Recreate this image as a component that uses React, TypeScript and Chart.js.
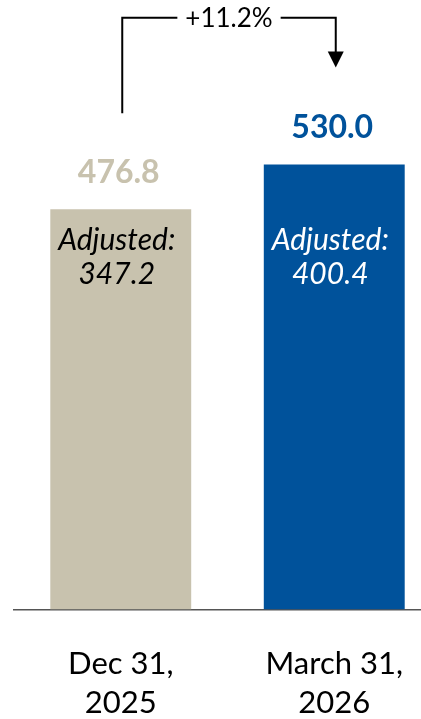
import React, { useEffect, useRef } from "react";
import { Chart, registerables } from "chart.js";

Chart.register(...registerables);

const categories: string[][] = [["Dec 31,", "2025"], ["March 31,", "2026"]];
const totals: number[] = [476.8, 530.0];
const adjusted: number[] = [347.2, 400.4];
const changeLabel = "+11.2%";
const barColors = ["#C8C2AE", "#00529B"];
const adjustedTextColors = ["#000000", "#FFFFFF"];
const FONT = "Lato, 'Open Sans', sans-serif";

const annotationPlugin = {
  id: "annotations",
  afterDatasetsDraw(chart: any) {
    const ctx = chart.ctx;
    const meta = chart.getDatasetMeta(0);
    const yScale = chart.scales.y;
    ctx.save();
    meta.data.forEach((bar: any, i: number) => {
      ctx.font = `bold 32px ${FONT}`;
      ctx.fillStyle = barColors[i];
      ctx.textAlign = "center";
      ctx.textBaseline = "middle";
      ctx.fillText(totals[i].toFixed(1), bar.x - 2, bar.y - 37);
      ctx.font = `italic 30px ${FONT}`;
      ctx.fillStyle = adjustedTextColors[i];
      const yA = yScale.getPixelForValue(440);
      ctx.fillText("Adjusted:", bar.x - 4, yA);
      ctx.fillText(adjusted[i].toFixed(1), bar.x - 4, yA + 34);
    });
    const b0 = meta.data[0];
    const b1 = meta.data[1];
    const x0 = b0.x + 1.5;
    const x1 = b1.x + 1.5;
    const topY = yScale.getPixelForValue(705);
    const leftBottom = b0.y - 96;
    const tipY = b1.y - 97;
    const midX = (x0 + x1) / 2;
    ctx.font = `26px ${FONT}`;
    const tw = ctx.measureText(changeLabel).width;
    ctx.strokeStyle = "#000";
    ctx.lineWidth = 2;
    ctx.beginPath();
    ctx.moveTo(x0, leftBottom);
    ctx.lineTo(x0, topY);
    ctx.lineTo(midX - tw / 2 - 8, topY);
    ctx.moveTo(midX + tw / 2 + 8, topY);
    ctx.lineTo(x1, topY);
    ctx.lineTo(x1, tipY - 15);
    ctx.stroke();
    ctx.fillStyle = "#000";
    ctx.beginPath();
    ctx.moveTo(x1 - 8, tipY - 16);
    ctx.lineTo(x1 + 8, tipY - 16);
    ctx.lineTo(x1, tipY);
    ctx.closePath();
    ctx.fill();
    ctx.textAlign = "center";
    ctx.textBaseline = "middle";
    ctx.fillText(changeLabel, midX, topY + 1);
    ctx.restore();
  },
};

export default function App() {
  const ref = useRef<HTMLCanvasElement | null>(null);
  useEffect(() => {
    if (!ref.current) return;
    const chart = new Chart(ref.current, {
      type: "bar",
      data: {
        labels: categories,
        datasets: [
          {
            data: totals,
            backgroundColor: barColors,
            borderWidth: 0,
            barPercentage: 0.66,
            categoryPercentage: 1,
          },
        ],
      },
      options: {
        responsive: false,
        animation: false,
        layout: { padding: { left: 14, right: 0, top: 0, bottom: 0 } },
        plugins: { legend: { display: false }, tooltip: { enabled: false } },
        scales: {
          x: {
            grid: { display: false, drawTicks: false },
            border: { display: true, color: "#555", width: 1.5 },
            ticks: {
              color: "#000",
              font: { family: FONT, size: 31, lineHeight: 1.25 },
              padding: 35,
              maxRotation: 0,
              autoSkip: false,
            },
          },
          y: { display: false, min: 0, max: 726 },
        },
      },
      plugins: [annotationPlugin],
    });
    return () => chart.destroy();
  }, []);
  return (
    <div style={{ position: "absolute", left: 0, top: 0, width: 421, height: 719, overflow: "hidden", background: "#fff" }}>
      <canvas ref={ref} width={441} height={757} />
    </div>
  );
}
